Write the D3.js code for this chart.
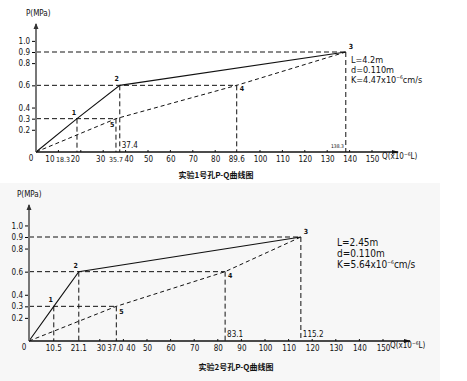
<!DOCTYPE html>
<html><head><meta charset="utf-8">
<script src="https://cdn.jsdelivr.net/npm/d3@7"></script>
<style>
body{margin:0;background:#fff;}
svg{display:block;}
text{font-family:"DejaVu Sans Condensed","DejaVu Sans",sans-serif;fill:#111;}
.cap{font-family:"Noto Sans CJK SC",sans-serif;font-weight:bold;}
</style></head>
<body>
<svg id="c" width="467" height="381"></svg>
<script>
// ---------- data ----------
const pTicks = [0.2, 0.3, 0.4, 0.6, 0.8, 0.9, 1.0];
const pointP = [0, 0.3, 0.6, 0.9];

// test hole 1
const t1SolidQ = [0, 18.3, 37.4, 138.3];
const t1DashQ  = [0, 35.7, 89.6, 138.3];
const t1QTicks = [10, 20, 30, 40, 50, 60, 70, 80, 100, 110, 120, 130, 140, 150];
const t1AxisMarks = [18.3, 35.7, 89.6];
const t1UpperMarks = [37.4];
const t1SmallMarks = [138.3];
const t1Params = ["L=4.2m", "d=0.110m", "K=4.47x10⁻⁶cm/s"];
const t1Caption = "实验1号孔P-Q曲线图";

// test hole 2
const t2SolidQ = [0, 10.5, 21.1, 115.2];
const t2DashQ  = [0, 37.0, 83.1, 115.2];
const t2QTicks = [30, 40, 50, 60, 70, 80, 90, 100, 110, 120, 130, 140, 150];
const t2AxisMarks = [10.5, 21.1, 37.0];
const t2UpperMarks = [83.1, 115.2];
const t2SmallMarks = [];
const t2Params = ["L=2.45m", "d=0.110m", "K=5.64x10⁻⁶cm/s"];
const t2Caption = "实验2号孔P-Q曲线图";

const solidLabels = ["", "1", "2", "3"];
const dashLabels  = ["", "5", "4", ""];

// ---------- drawing ----------
const svg = d3.select("#c");
svg.append("rect").attr("x",0).attr("y",183).attr("width",440).attr("height",198).attr("fill","#f7f7f7");

function draw(o){
  const g = svg.append("g");
  const x = d3.scaleLinear().domain([0,150]).range(o.xr);
  const y = d3.scaleLinear().domain([0,0.9]).range(o.yr);
  const X0 = x(0), Y0 = y(0);
  const fmt = d => d.toFixed(1);

  const dashStyle = (sel, col, w) => sel.attr("stroke", col||"#111").attr("stroke-width", w||1).attr("stroke-dasharray","5,3").attr("fill","none");
  // horizontal guides to the dashed-series points
  for (let i=1;i<4;i++){
    const isTop = i===3;
    dashStyle(g.append("line").attr("x1",X0).attr("x2",x(o.dashQ[i])).attr("y1",y(pointP[i])).attr("y2",y(pointP[i])),
      isTop && o.grayTop ? "#8a8a8a" : "#111", isTop && o.grayTop ? 2 : 1);
  }
  // vertical guides
  const allQ = [[o.solidQ[1],pointP[1]],[o.solidQ[2],pointP[2]],[o.dashQ[1],pointP[1]],[o.dashQ[2],pointP[2]],[o.dashQ[3],pointP[3]]];
  allQ.forEach(([q,p])=>{
    dashStyle(g.append("line").attr("x1",x(q)).attr("x2",x(q)).attr("y1",y(p)).attr("y2",Y0));
  });

  // series
  const line = d3.line().x(d=>x(d)).y((d,i)=>y(pointP[i]));
  g.append("path").attr("d", line(o.solidQ)).attr("fill","none").attr("stroke","#111").attr("stroke-width",1.1);
  g.append("path").attr("d", line(o.dashQ)).attr("fill","none").attr("stroke","#111").attr("stroke-width",1).attr("stroke-dasharray","4,3");

  // point labels
  o.solidQ.forEach((q,i)=>{
    if(!solidLabels[i]) return;
    const dx = i===3 ? 3 : -3, dy = i===3 ? -3 : -4;
    g.append("text").attr("x",x(q)+dx).attr("y",y(pointP[i])+dy).attr("font-size",7).attr("font-weight","bold")
      .attr("text-anchor", i===3?"start":"middle").text(solidLabels[i]);
  });
  o.dashQ.forEach((q,i)=>{
    if(!dashLabels[i]) return;
    const dx = i===1 ? o.p5dx : 3, dy = i===1 ? 8 : 6;
    g.append("text").attr("x",x(q)+dx).attr("y",y(pointP[i])+dy).attr("font-size",7).attr("font-weight","bold").text(dashLabels[i]);
  });

  // axes
  g.append("line").attr("x1",X0).attr("x2",X0).attr("y1",Y0).attr("y2",o.yTop).attr("stroke","#777").attr("stroke-width",2);
  g.append("path").attr("d",`M${X0-2.5},${o.yTop+5}L${X0},${o.yTop-1}L${X0+2.5},${o.yTop+5}Z`).attr("fill","#333");
  g.append("line").attr("x1",X0).attr("x2",o.xEnd).attr("y1",Y0).attr("y2",Y0).attr("stroke","#111").attr("stroke-width",1.5);
  g.append("path").attr("d",`M${o.xEnd-6},${Y0-2}L${o.xEnd+1},${Y0}L${o.xEnd-6},${Y0+2}Z`).attr("fill","#111");

  // y axis ticks
  const ya = d3.axisLeft(y).tickValues(pTicks).tickFormat(fmt).tickSize(3).tickPadding(2);
  const yg = g.append("g").attr("transform",`translate(${X0-1},0)`).call(ya);
  yg.select(".domain").remove();
  yg.selectAll("text").attr("font-size",o.fs).attr("font-family","DejaVu Sans Condensed, DejaVu Sans").attr("fill","#111");
  g.append("text").attr("x",X0-5).attr("y",Y0+9).attr("font-size",o.fs).attr("text-anchor","middle").text("0");

  // x axis ticks
  const xa = d3.axisBottom(x).tickValues(o.qTicks).tickFormat(d3.format("d")).tickSize(0).tickPadding(4);
  const xg = g.append("g").attr("transform",`translate(0,${Y0})`).call(xa);
  xg.select(".domain").remove();
  xg.selectAll("text").attr("font-size",o.fs).attr("font-family","DejaVu Sans Condensed, DejaVu Sans").attr("fill","#111")
    .attr("dx", d => (o.shift[d]||0));
  g.selectAll(".tk").data(o.qTicks).enter().append("line").attr("x1",d=>x(d)).attr("x2",d=>x(d)).attr("y1",Y0).attr("y2",Y0-2).attr("stroke","#111");
  // special value labels on axis
  o.axisMarks.forEach(v=>{
    const m = o.markPos[v] || [0,"middle",o.fs];
    g.append("text").attr("x",x(v)+m[0]).attr("y",Y0+9.7).attr("font-size",m[2]||o.fs).attr("text-anchor",m[1]).text(fmt(v));
  });
  o.upperMarks.forEach(v=>{
    g.append("text").attr("x",x(v)+2).attr("y",Y0-4).attr("font-size",o.fs).text(fmt(v));
  });
  o.smallMarks.forEach(v=>{
    g.append("text").attr("x",x(v)-2).attr("y",Y0-4).attr("font-size",5).attr("text-anchor","end").text(fmt(v));
  });

  // axis titles
  g.append("text").attr("x",o.px0).attr("y",o.yTop-8).attr("font-size",o.fs).text("P(MPa)");
  const qt = g.append("text").attr("x",o.qx).attr("y",Y0+7).attr("font-size",o.fs);
  qt.append("tspan").text("Q(x10");
  qt.append("tspan").attr("dy",-3).attr("font-size",5).text("−6");
  qt.append("tspan").attr("dy",3).text("L)");

  // parameters
  o.params.forEach((s,i)=>{
    const t = g.append("text").attr("x",o.px).attr("y",o.py+i*o.pdy).attr("font-size",o.pfs);
    if(s.indexOf("⁻⁶")>=0){
      const [a,b] = s.split("⁻⁶");
      t.append("tspan").text(a);
      t.append("tspan").attr("dy",-4).attr("font-size",5).text("−6");
      t.append("tspan").attr("dy",4).text(b);
    } else t.text(s);
  });

  // caption
  g.append("text").attr("class","cap").attr("x",o.cx).attr("y",o.cy).attr("font-size",8).attr("text-anchor","middle").text(o.caption);
}

draw({xr:[36,372], yr:[152,52], yTop:24, xEnd:398, solidQ:t1SolidQ, dashQ:t1DashQ, qTicks:t1QTicks,
  axisMarks:t1AxisMarks, upperMarks:t1UpperMarks, smallMarks:t1SmallMarks, params:t1Params,
  caption:t1Caption, grayTop:true, fs:8, pfs:9, px:351, py:63, pdy:10, qx:382, cx:216, cy:178, p5dx:-6, px0:26,
  shift:{10:-9, 20:-6, 30:-3, 40:3}, markPos:{18.3:[-7,"end",7], 35.7:[-7,"start",7]}});
draw({xr:[29,383], yr:[341,237], yTop:205, xEnd:410, solidQ:t2SolidQ, dashQ:t2DashQ, qTicks:t2QTicks,
  axisMarks:t2AxisMarks, upperMarks:t2UpperMarks, smallMarks:t2SmallMarks, params:t2Params,
  caption:t2Caption, grayTop:false, fs:8, pfs:10, px:337, py:246, pdy:11, qx:390, cx:236, cy:370, p5dx:3, px0:17,
  shift:{40:7, 30:1}, markPos:{37.0:[-1,"middle",8]}});
</script>
</body></html>
